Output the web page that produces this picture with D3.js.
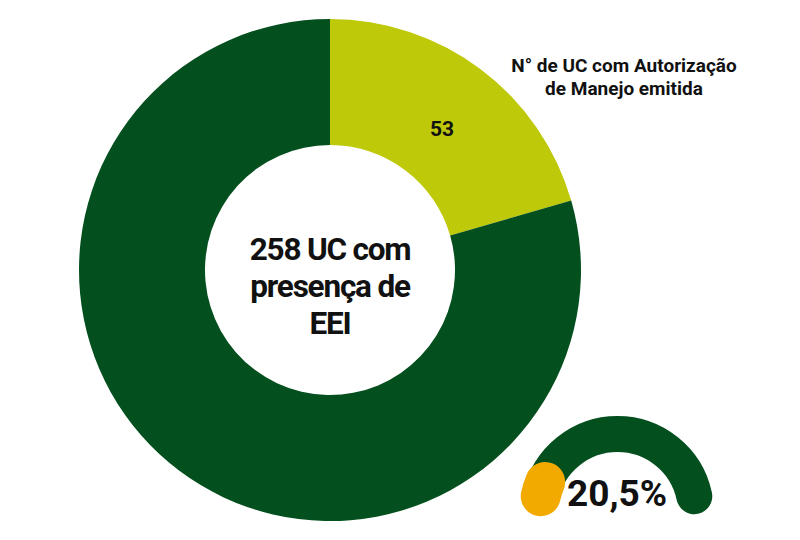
<!DOCTYPE html>
<html>
<head>
<meta charset="utf-8">
<script src="https://cdn.jsdelivr.net/npm/d3@7"></script>
<style>
  html, body { margin: 0; padding: 0; background: #fff; }
  svg { display: block; }
  text { font-family: Roboto, "Noto Sans", sans-serif; font-weight: 700; fill: #111; }
</style>
</head>
<body>
<svg id="chart" width="800" height="540"></svg>
<script>
// ---- data ----
const categories = ["N° de UC com Autorização de Manejo emitida", "Demais UC com presença de EEI"];
const values = [53, 205];
const total = 258;
const percentLabel = "20,5%";
const centerLabel = ["258 UC com", "presença de", "EEI"];
const legendLabel = ["N° de UC com Autorização", "de Manejo emitida"];
const gaugeMarker = [0, 7]; // orange marker extent on the gauge (percent of gauge)

const colors = ["#BEC90A", "#034F1D"];

const svg = d3.select("#chart");
const cx = 330, cy = 270, rOuter = 251, rInner = 125;

const pie = d3.pie().sort(null).value(d => d)(values);
const arc = d3.arc().innerRadius(rInner).outerRadius(rOuter);

const g = svg.append("g").attr("transform", `translate(${cx},${cy})`);
g.selectAll("path.slice").data(pie).enter().append("path")
  .attr("class", "slice")
  .attr("d", arc)
  .attr("fill", (d, i) => colors[i]);

// value label of first slice
const labArc = d3.arc().innerRadius(178).outerRadius(178);
const c0 = labArc.centroid({startAngle: pie[0].startAngle, endAngle: pie[0].endAngle});
g.append("text")
  .attr("x", c0[0]).attr("y", c0[1])
  .attr("dx", 5)
  .attr("dy", "0.37em")
  .attr("text-anchor", "middle")
  .attr("font-size", 21)
  .text(values[0]);

// center label
g.selectAll("text.center").data(centerLabel).enter().append("text")
  .attr("class", "center")
  .attr("text-anchor", "middle")
  .attr("x", 0)
  .attr("y", (d, i) => -10 + i * 37)
  .attr("font-size", 31.5)
  .attr("font-weight", 700)
  .style("letter-spacing", "-1.2px")
  .text(d => d);

// legend label
svg.selectAll("text.leg").data(legendLabel).enter().append("text")
  .attr("class", "leg")
  .attr("text-anchor", "middle")
  .attr("x", 624)
  .attr("y", (d, i) => 72 + i * 23)
  .attr("font-size", 19)
  .attr("font-weight", 700)
  .text(d => d);

// gauge
const gx = 617.5, gy = 512.5, gr = 78.5;
const maxA = 78 * Math.PI / 180;
const gScale = d3.scaleLinear().domain([0, 100]).range([-maxA, maxA]);
function arcPath(a0, a1) {
  const p = d3.path();
  p.arc(gx, gy, gr, a0 - Math.PI / 2, a1 - Math.PI / 2, false);
  return p.toString();
}
svg.append("path")
  .attr("d", arcPath(gScale(0), gScale(100)))
  .attr("fill", "none")
  .attr("stroke", colors[1])
  .attr("stroke-width", 36)
  .attr("stroke-linecap", "round");
svg.append("path")
  .attr("d", arcPath(gScale(gaugeMarker[0]), gScale(gaugeMarker[1])))
  .attr("fill", "none")
  .attr("stroke", "#F2A900")
  .attr("stroke-width", 40)
  .attr("stroke-linecap", "round");
svg.append("text")
  .attr("x", 617).attr("y", 506)
  .attr("text-anchor", "middle")
  .attr("font-size", 37)
  .text(percentLabel);
</script>
</body>
</html>
